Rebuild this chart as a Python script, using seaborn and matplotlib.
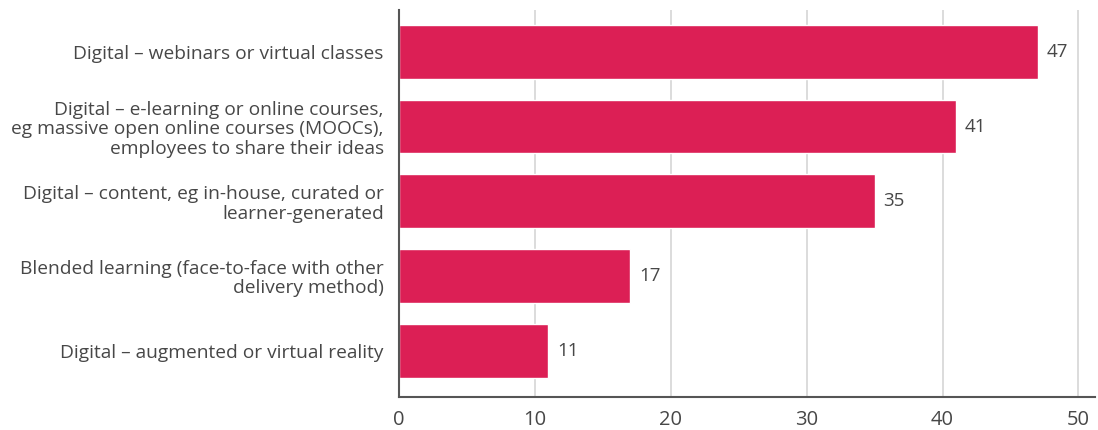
import matplotlib
matplotlib.use("Agg")
import matplotlib.pyplot as plt
import seaborn as sns
import pandas as pd

categories = [
    "Digital – webinars or virtual classes",
    "Digital – e-learning or online courses,\neg massive open online courses (MOOCs),\nemployees to share their ideas",
    "Digital – content, eg in-house, curated or\nlearner-generated",
    "Blended learning (face-to-face with other\ndelivery method)",
    "Digital – augmented or virtual reality",
]
values = [47, 41, 35, 17, 11]
x_ticks = [0, 10, 20, 30, 40, 50]

bar_color = "#DC1F55"
text_color = "#474747"

sns.set_theme(style="white")
plt.rcParams["font.family"] = ["Open Sans", "DejaVu Sans"]

df = pd.DataFrame({"category": categories, "value": values})

fig = plt.figure(figsize=(10.98, 4.30), dpi=100)
ax = fig.add_axes([0.3634, 0.0767, 0.6336, 0.9])

ax.xaxis.grid(True, color="#D9D9D9", linewidth=1.3)
ax.set_axisbelow(True)

sns.barplot(data=df, x="value", y="category", orient="h", color=bar_color,
            saturation=1, width=0.72, ax=ax)

for i, v in enumerate(values):
    ax.text(v + 0.65, i, f"{v}", va="center", ha="left",
            fontsize=13.5, color=text_color)

ax.set_xlim(0, 51.2)
ax.set_ylim(4.62, -0.56)
ax.set_xticks(x_ticks)
ax.set_xlabel("")
ax.set_ylabel("")
ax.tick_params(axis="x", length=0, pad=9, labelsize=14.5, labelcolor=text_color)
ax.tick_params(axis="y", length=0, pad=11, labelsize=13.8, labelcolor=text_color)
for lbl in ax.get_yticklabels():
    lbl.set_multialignment("right")
    lbl.set_linespacing(1.1)

for side in ["top", "right"]:
    ax.spines[side].set_visible(False)
for side in ["left", "bottom"]:
    ax.spines[side].set_color("#555555")
    ax.spines[side].set_linewidth(1.5)

fig.savefig("out.png", dpi=100)
